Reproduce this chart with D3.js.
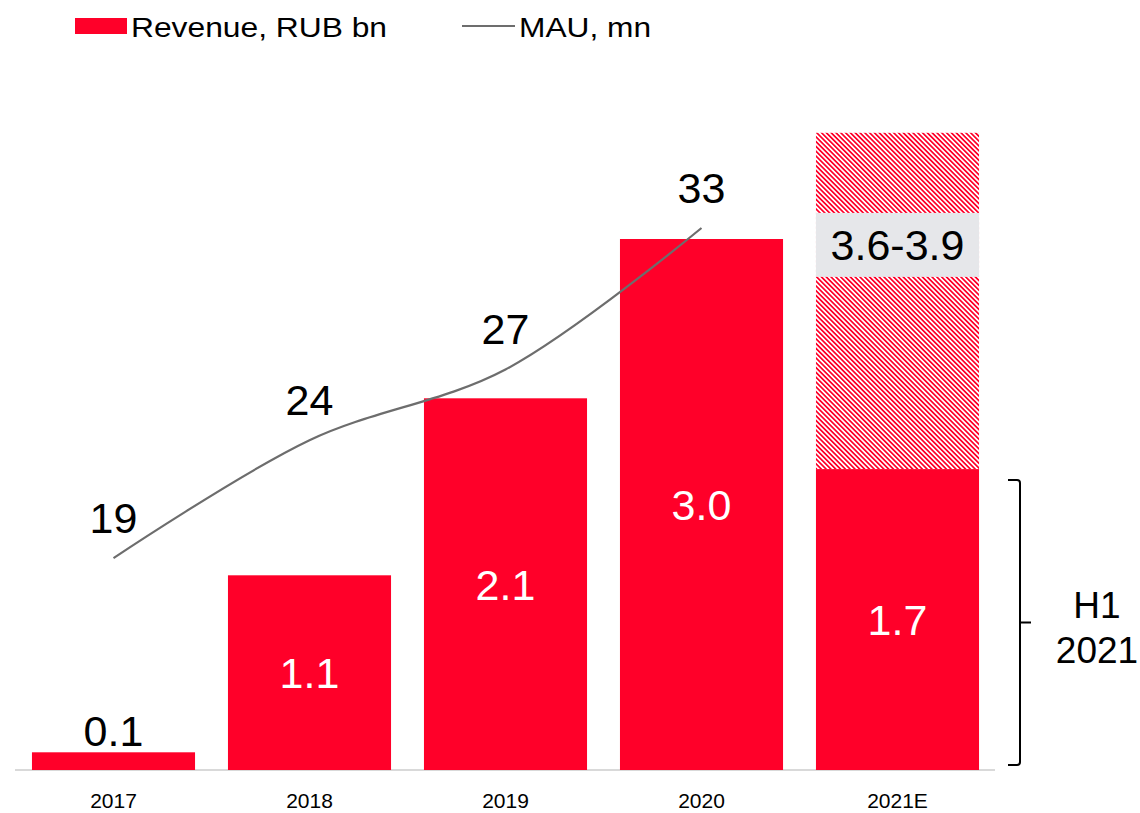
<!DOCTYPE html>
<html>
<head>
<meta charset="utf-8">
<script src="https://cdn.jsdelivr.net/npm/d3@7"></script>
<style>
  body { margin: 0; background: #fff; }
  svg { display: block; }
  text { font-family: "Liberation Sans", Arial, sans-serif; }
</style>
</head>
<body>
<svg id="chart" width="1140" height="813"></svg>
<script>
// Revenue (RUB bn) per year; 2021E bar is the H1 actual
const years = ["2017", "2018", "2019", "2020", "2021E"];
const revenue = [0.1, 1.1, 2.1, 3.0, 1.7];
const revenueLabels = ["0.1", "1.1", "2.1", "3.0", "1.7"];

// Monthly active users, mn
const mauYears = ["2017", "2018", "2019", "2020"];
const mau = [19, 24, 27, 33];

// Full-year 2021 revenue guidance, RUB bn
const forecastYear = "2021E";
const forecastRange = [3.6, 3.9];
const forecastLabel = "3.6-3.9";

const bracketLabel = ["H1", "2021"];
const legendItems = ["Revenue, RUB bn", "MAU, mn"];

const RED = "#ff0029";
const GREY_LINE = "#6d6d6d";

const svg = d3.select("#chart");

const x = d3.scaleBand()
  .domain(years)
  .range([15.5, 995.5])
  .paddingInner(0.168)
  .paddingOuter(0.084);

const y = d3.scaleLinear().domain([0, 4]).range([770, 62]);
const y2 = d3.scaleLinear().domain([0, 40]).range([1006, 63]);

// hatch pattern for the forecast part of the 2021E bar
const defs = svg.append("defs");
const pat = defs.append("pattern")
  .attr("id", "hatch")
  .attr("patternUnits", "userSpaceOnUse")
  .attr("width", 3.4)
  .attr("height", 10)
  .attr("patternTransform", "rotate(-45)");
pat.append("rect").attr("width", 3.4).attr("height", 10).attr("fill", "#fff");
pat.append("rect").attr("width", 1.7).attr("height", 10).attr("fill", RED);

// baseline axis
const axis = svg.append("g")
  .attr("transform", `translate(0,${y(0)})`)
  .call(d3.axisBottom(x).tickSize(0).tickPadding(23));
axis.select(".domain").attr("stroke", "#d9d9d9").attr("stroke-width", 2)
  .attr("d", `M15,0H995`);
axis.attr("font-size", 21).attr("font-family", "Liberation Sans, Arial, sans-serif");
axis.selectAll(".tick text").attr("fill", "#000");

// forecast hatched segment
const fx = x(forecastYear);
const hIdx = years.indexOf(forecastYear);
svg.append("rect")
  .attr("x", fx)
  .attr("width", x.bandwidth())
  .attr("y", y(forecastRange[0]))
  .attr("height", y(revenue[hIdx]) - y(forecastRange[0]))
  .attr("fill", "url(#hatch)");

// forecast range label box
const hatchTop = y(forecastRange[0]);
const hatchBottom = y(revenue[hIdx]);
const boxCy = hatchTop + (hatchBottom - hatchTop) / 3;
svg.append("rect")
  .attr("x", fx)
  .attr("width", x.bandwidth())
  .attr("y", boxCy - 32)
  .attr("height", 64)
  .attr("fill", "#e6e7ea");
svg.append("text")
  .attr("x", fx + x.bandwidth() / 2)
  .attr("y", boxCy)
  .attr("dy", "0.36em")
  .attr("text-anchor", "middle")
  .attr("font-size", 43)
  .attr("fill", "#000")
  .text(forecastLabel);

// revenue bars
svg.append("g").selectAll("rect")
  .data(years)
  .join("rect")
  .attr("x", d => x(d))
  .attr("width", x.bandwidth())
  .attr("y", (d, i) => y(revenue[i]))
  .attr("height", (d, i) => y(0) - y(revenue[i]))
  .attr("fill", RED);

// revenue labels: inside the bar when it is tall enough, otherwise above
svg.append("g").selectAll("text")
  .data(years)
  .join("text")
  .attr("x", d => x(d) + x.bandwidth() / 2)
  .attr("y", (d, i) => {
    const h = y(0) - y(revenue[i]);
    return h > 60 ? (y(revenue[i]) + y(0)) / 2 : y(revenue[i]) - 6;
  })
  .attr("dy", (d, i) => (y(0) - y(revenue[i]) > 60 ? "0.36em" : 0))
  .attr("text-anchor", "middle")
  .attr("font-size", 43)
  .attr("fill", (d, i) => (y(0) - y(revenue[i]) > 60 ? "#fff" : "#000"))
  .text((d, i) => revenueLabels[i]);

// MAU line
const cx = d => x(d) + x.bandwidth() / 2;
const line = d3.line()
  .x((d, i) => cx(mauYears[i]))
  .y(d => y2(d))
  .curve(d3.curveCatmullRom.alpha(0.5));
svg.append("path")
  .datum(mau)
  .attr("d", line)
  .attr("fill", "none")
  .attr("stroke", GREY_LINE)
  .attr("stroke-width", 2.2);

svg.append("g").selectAll("text")
  .data(mau)
  .join("text")
  .attr("x", (d, i) => cx(mauYears[i]))
  .attr("y", d => y2(d) - 25)
  .attr("text-anchor", "middle")
  .attr("font-size", 43)
  .attr("fill", "#000")
  .text(d => d);

// bracket marking the H1 2021 portion
const bTop = y(revenue[hIdx]) + 11;
const bBot = y(0) - 5;
const bMid = (bTop + bBot) / 2;
const bx0 = 1008, bx1 = 1020, bx2 = 1031;
svg.append("path")
  .attr("d", `M${bx0},${bTop}H${bx1 - 3}Q${bx1},${bTop} ${bx1},${bTop + 3}` +
             `V${bMid}H${bx2}M${bx1},${bMid}` +
             `V${bBot - 3}Q${bx1},${bBot} ${bx1 - 3},${bBot}H${bx0}`)
  .attr("fill", "none")
  .attr("stroke", "#000")
  .attr("stroke-width", 2);
svg.append("text")
  .attr("x", 1097)
  .attr("y", bMid - 5)
  .attr("text-anchor", "middle")
  .attr("font-size", 37)
  .text(bracketLabel[0]);
svg.append("text")
  .attr("x", 1097)
  .attr("y", bMid + 40)
  .attr("text-anchor", "middle")
  .attr("font-size", 37)
  .text(bracketLabel[1]);

// legend
const lg = svg.append("g");
lg.append("rect").attr("x", 75).attr("y", 18).attr("width", 52).attr("height", 16).attr("fill", RED);
lg.append("text").attr("x", 131).attr("y", 37).attr("font-size", 27)
  .attr("textLength", 256).attr("lengthAdjust", "spacingAndGlyphs")
  .text(legendItems[0]);
lg.append("line").attr("x1", 462).attr("x2", 515).attr("y1", 26).attr("y2", 26)
  .attr("stroke", GREY_LINE).attr("stroke-width", 2.2);
lg.append("text").attr("x", 519).attr("y", 37).attr("font-size", 27)
  .attr("textLength", 132).attr("lengthAdjust", "spacingAndGlyphs")
  .text(legendItems[1]);
</script>
</body>
</html>
